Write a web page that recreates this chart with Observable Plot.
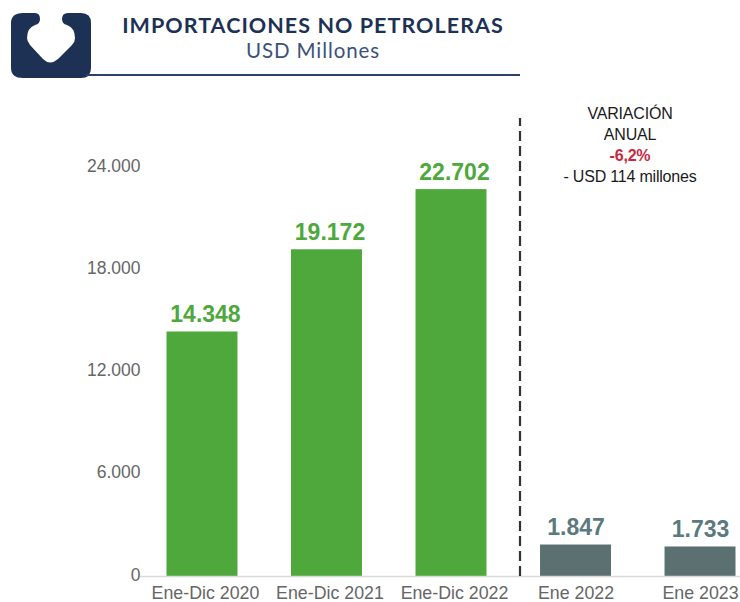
<!DOCTYPE html>
<html><head><meta charset="utf-8">
<script src="https://cdn.jsdelivr.net/npm/d3@7"></script>
<script src="https://cdn.jsdelivr.net/npm/@observablehq/plot@0.6"></script>
<style>
html,body{margin:0;padding:0;background:#fff;overflow:hidden}
#wrap{position:relative;width:740px;height:602px;overflow:hidden;font-family:"Liberation Sans",Arial,sans-serif}
#chart{position:absolute;left:0;top:0}
#chart svg{display:block;overflow:hidden}
#logo{position:absolute;left:10px;top:12px}
.t{position:absolute;text-align:center;white-space:nowrap}
#title{left:98px;width:430px;top:14px;font:700 21.5px/22px Lato,sans-serif;color:#1d3155;letter-spacing:1.05px}
#sub{left:98px;width:430px;top:39px;font:400 20.5px/22px Lato,sans-serif;color:#3c5278;letter-spacing:.9px}
#hr{position:absolute;left:86px;top:74px;width:434px;height:2px;background:#2c4169}
#note{left:530px;width:200px;top:103px;font:16px/21px "Liberation Sans",sans-serif;color:#1a1a1a;letter-spacing:-.2px}
#note b{color:#c8283f;font-weight:700}
</style></head><body>
<div id="wrap">
<div id="chart"></div>
<svg id="logo" width="86" height="68" viewBox="0 0 86 68"><path fill="#1d3155" d="M13 1H25Q30 1 30 7Q30 12 25 13Q17 16 17 26Q17 29 20 33L33 47Q40 54 48 47L62 33Q65 30 65 26Q65 16 57 13Q52 12 52 7Q52 1 58 1H71Q81 1 81 11V56Q81 66 71 66H13Q1 66 1 56V11Q1 1 13 1Z"/></svg>
<div class="t" id="title">IMPORTACIONES NO PETROLERAS</div>
<div class="t" id="sub">USD Millones</div>
<div id="hr"></div>
<div class="t" id="note">VARIACIÓN<br>ANUAL<br><b>-6,2%</b><br>- USD 114 millones</div>
</div>
<script>
const categories = ["Ene-Dic 2020","Ene-Dic 2021","Ene-Dic 2022","Ene 2022","Ene 2023"];
const values = [14348,19172,22702,1847,1733];
const labels = ["14.348","19.172","22.702","1.847","1.733"];
const groups = ["anual","anual","anual","mes","mes"];
const yTicks = [0,6000,12000,18000,24000];
const yTickLabels = ["0","6.000","12.000","18.000","24.000"];
const dividerTop = [26870];
const table = categories.map((c,i)=>({c,v:values[i],l:labels[i],g:groups[i]}));
const chart = Plot.plot({
  width:740,height:602,
  marginTop:0,marginBottom:0,marginLeft:140,marginRight:0,
  style:{background:"transparent",fontFamily:"'Liberation Sans',Arial,sans-serif",overflow:"hidden"},
  x:{domain:categories,range:[166.5,735.5],paddingInner:0.43,paddingOuter:0,round:false,label:null},
  y:{domain:[0,24000],range:[576,167],label:null},
  color:{domain:["anual","mes"],range:["#4ea83c","#5b7070"]},
  marks:[
    Plot.barY(table,{x:"c",y:"v",fill:"g"}),
    Plot.ruleY([0],{stroke:"#d9d9d9",strokeWidth:1.5}),
    Plot.ruleX(["Ene 2022"],{y1:0,y2:dividerTop[0],dx:-56,stroke:"#333",strokeWidth:2.2,strokeDasharray:"10 5"}),
    Plot.text(table.filter(d=>d.g==="anual"),{x:"c",y:"v",text:"l",dy:-17,dx:3,fontSize:23,fontWeight:700,fill:"#4ea83c"}),
    Plot.text(table.filter(d=>d.g==="mes"),{x:"c",y:"v",text:"l",dy:-17,fontSize:23,fontWeight:700,fill:"#5b7a80"}),
    Plot.axisX({ticks:categories.slice(0,3),tickSize:0,tickPadding:10,dx:3,fontSize:17.8,color:"#666",anchor:"bottom",y:0}),
    Plot.axisX({ticks:categories.slice(3),tickSize:0,tickPadding:10,fontSize:17.8,color:"#666",anchor:"bottom",y:0}),
    Plot.axisY({ticks:yTicks,tickFormat:(d)=>yTickLabels[yTicks.indexOf(d)],tickSize:0,tickPadding:0,dy:-1.5,fontSize:17.5,color:"#666",anchor:"left"})
  ]
});
document.getElementById("chart").appendChild(chart);
</script>
</body></html>
